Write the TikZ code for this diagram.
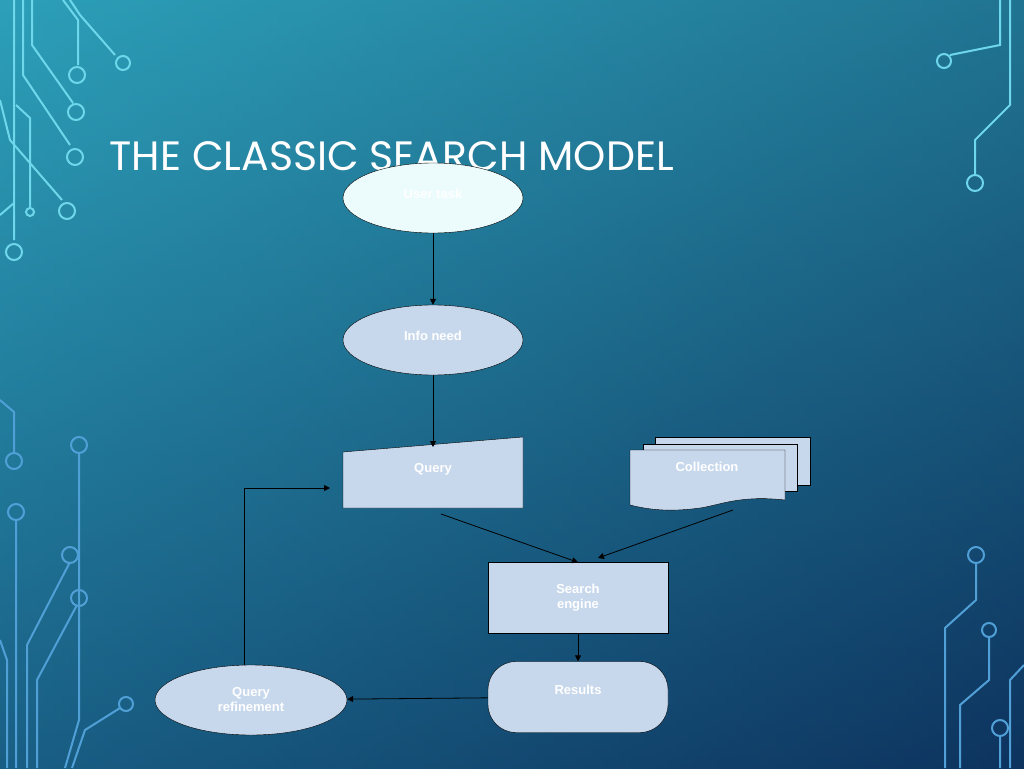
\documentclass[tikz,border=0pt]{standalone}
\usepackage{fontspec}
\setmainfont{Liberation Sans}
\newfontfamily\titlefont{Poppins}
\usetikzlibrary{shapes.geometric, positioning, arrows.meta}
\definecolor{bgtl}{RGB}{45,160,185}
\definecolor{bgbl}{RGB}{15,60,105}
\definecolor{bgbr}{RGB}{10,35,75}
\definecolor{boxfill}{RGB}{200,216,236}
\definecolor{topfill}{RGB}{236,252,252}
\definecolor{wire}{RGB}{110,215,235}
\definecolor{wiredark}{RGB}{80,160,215}
\tikzset{
    flow/.style = {draw, thick, -{Triangle[length=6pt,width=6pt]}},
    blob/.style = {ellipse, draw, fill=boxfill, minimum width=180pt, minimum height=70pt, text=white, font=\bfseries\fontsize{13}{15}\selectfont, align=center},
    box/.style = {rectangle, draw, fill=boxfill, minimum width=180pt, minimum height=71pt, text=white, font=\bfseries\fontsize{13}{15}\selectfont, align=center},
    wirepath/.style = {draw=wire, line width=2pt},
}
\begin{document}
\begin{tikzpicture}[x=1pt, y=-1pt]
    \useasboundingbox (0,0) rectangle (1024,768);
    \shade[top color=bgtl, bottom color=bgbl] (0,0) rectangle (1024,768);
    \shade[left color=bgtl, right color=bgbr, opacity=0.35] (0,0) rectangle (1024,768);

    % circuit decoration
    \draw[wirepath] (14,0) -- (14,240) (14,252) circle (8pt);
    \draw[wirepath] (23,0) -- (23,75) -- (70,145) (75,157) circle (8pt);
    \draw[wirepath] (32,0) -- (32,45) -- (73,103) (76,112) circle (8pt);
    \draw[wirepath] (63,0) -- (78,20) -- (78,65) (77,75) circle (8pt);
    \draw[wirepath] (70,0) -- (80,15) -- (115,55) (123,63) circle (7pt);
    \draw[wirepath] (16,105) -- (30,118) -- (30,208) (30,212) circle (4pt);
    \draw[wirepath] (0,215) -- (14,203) (0,100) -- (10,140) -- (62,200) (67,211) circle (8pt);
    \draw[wirepath, draw=wiredark] (0,400) -- (14,412) -- (14,452) (14,461) circle (8pt);
    \draw[wirepath, draw=wiredark] (16,520) -- (16,768) (16,512) circle (8pt);
    \draw[wirepath, draw=wiredark] (0,640) -- (7,660) -- (7,768);
    \draw[wirepath, draw=wiredark] (70,562) -- (27,645) -- (27,768) (70,555) circle (8pt);
    \draw[wirepath, draw=wiredark] (77,605) -- (37,680) -- (37,768) (79,598) circle (8pt);
    \draw[wirepath, draw=wiredark] (79,453) -- (79,720) -- (65,768) (79,445) circle (8pt);
    \draw[wirepath, draw=wiredark] (120,708) -- (85,730) -- (72,768) (126,704) circle (7pt);
    \draw[wirepath] (1000,0) -- (1000,45) -- (950,55) (944,61) circle (7pt);
    \draw[wirepath] (1010,0) -- (1010,105) -- (975,140) -- (975,175) (975,183) circle (8pt);
    \draw[wirepath, draw=wiredark] (976,562) -- (976,600) -- (945,628) -- (945,768) (976,555) circle (8pt);
    \draw[wirepath, draw=wiredark] (989,637) -- (989,680) -- (960,705) -- (960,768) (989,630) circle (7pt);
    \draw[wirepath, draw=wiredark] (1000,736) -- (1000,768) (1000,728) circle (8pt);
    \draw[wirepath, draw=wiredark] (1024,665) -- (1010,680) -- (1010,768);

    \node[anchor=base west, text=white, font=\titlefont\fontsize{41}{45}\selectfont] (title) at (106,170) {THE CLASSIC SEARCH MODEL};

    \node[blob, fill=topfill] (task) at (433,198) {\raisebox{9pt}{User task}};
    \node[blob] (need) at (433,340) {\raisebox{9pt}{Info need}};
    \draw[fill=boxfill] (343,452) -- (523,437) -- (523,508) -- (343,508) -- cycle;
    \node[text=white, font=\bfseries\fontsize{13}{15}\selectfont] (query) at (433,469) {Query};
    \coordinate (querytop) at (433,447);
    \coordinate (querybot) at (441,514);

    \draw[fill=boxfill] (655,437) rectangle (810,485);
    \draw[fill=boxfill] (643,444) rectangle (797,491);
    \draw[fill=boxfill] (630,450) -- (785,450) -- (785,500) .. controls (740,495) and (720,505) .. (700,508) .. controls (670,512) and (650,510) .. (630,505) -- cycle;
    \node[text=white, font=\bfseries\fontsize{13}{15}\selectfont, inner sep=0pt] (coll) at (707,467) {Collection};
    \coordinate (collbot) at (733,510);
    \coordinate (enginein) at (598,558);

    \node[box] (engine) at (578,598) {Search\\engine};
    \node[box, rounded corners=28pt] (results) at (578,697) {\raisebox{14pt}{Results}};
    \node[blob, minimum width=192pt] (refine) at (251,700) {Query\\refinement};
    \coordinate (loopup) at (244,665);
    \coordinate (loopturn) at (244,488);
    \coordinate (loopend) at (330,488);

    \draw[flow] (task) -- (need);
    \draw[flow] (need) -- (querytop);
    \draw[flow] (querybot) -- (engine.north);
    \draw[flow] (collbot) -- (enginein);
    \draw[flow] (engine) -- (results);
    \draw[flow] (results) -- (refine);
    \draw[flow] (loopup) -- (loopturn) -- (loopend);
\end{tikzpicture}
\end{document}
